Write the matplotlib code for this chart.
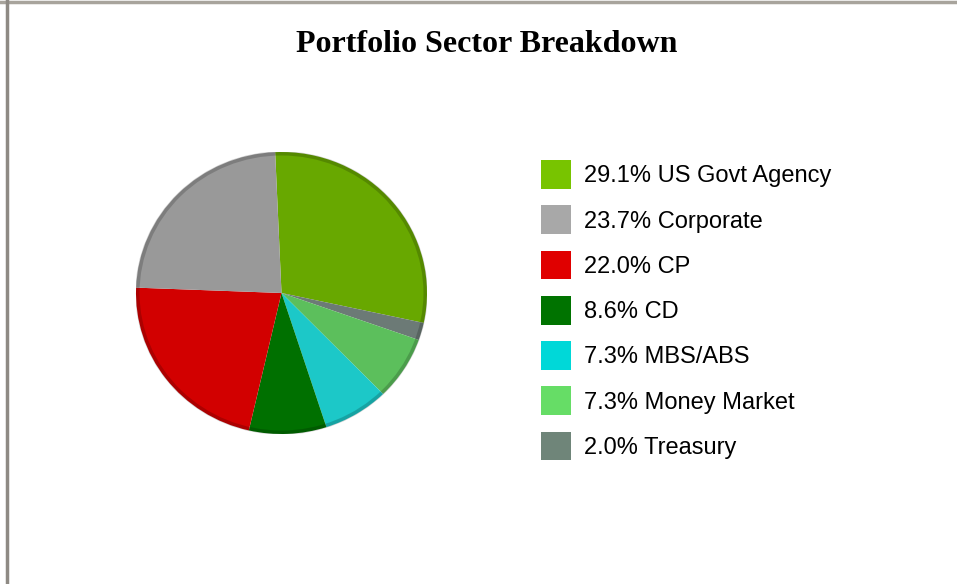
import matplotlib.pyplot as plt
from matplotlib.patches import Patch, Circle
from matplotlib.lines import Line2D

# Sector data (legend order)
sectors = ['US Govt Agency', 'Corporate', 'CP', 'CD', 'MBS/ABS', 'Money Market', 'Treasury']
weights = [29.1, 23.7, 22.0, 8.6, 7.3, 7.3, 2.0]

# pie colours (darker, shaded) and legend swatch colours
pie_colors = ['#68a800', '#999999', '#d20000', '#007000', '#1cc8c8', '#5cbf5c', '#6c7a76']
legend_colors = ['#78c400', '#a8a8a8', '#e00000', '#007300', '#00d8d8', '#66dd66', '#6f8579']

# clockwise order of slices from 12 o'clock
pie_order = [0, 6, 5, 4, 3, 2, 1]

fig = plt.figure(figsize=(9.57, 5.84), dpi=100)
fig.patch.set_facecolor('white')

# window frame on top and left
fig.add_artist(Line2D([0, 1], [1 - 1.5 / 584, 1 - 1.5 / 584], color='#a8a49c', lw=2.5,
                      transform=fig.transFigure))
fig.add_artist(Line2D([7.5 / 957, 7.5 / 957], [0, 1], color='#8e8a84', lw=2.5,
                      transform=fig.transFigure))

fig.text(487 / 957, 1 - 52 / 584, 'Portfolio Sector Breakdown', ha='center', va='baseline',
         fontsize=23, fontweight='bold', family='Liberation Serif')

# pie
ax = fig.add_axes([136 / 957, 1 - 434 / 584, 291 / 957, 282 / 584])
vals = [weights[i] for i in pie_order]
cols = [pie_colors[i] for i in pie_order]
wedges, _ = ax.pie(vals, colors=cols, startangle=92.5, counterclock=False,
                   wedgeprops=dict(linewidth=0))
# slight darker rim, like the bevelled original
ax.add_patch(Circle((0, 0), 0.99, fill=False, edgecolor='#000000', alpha=0.18, lw=3))
ax.set_aspect('auto')
ax.set_xlim(-1.0, 1.0)
ax.set_ylim(-1.0, 1.0)
ax.axis('off')

# legend
handles = [Patch(facecolor=c, edgecolor='none') for c in legend_colors]
labels = [f'{w:.1f}% {s}' for s, w in zip(sectors, weights)]
fig.legend(handles, labels, loc='upper left', bbox_to_anchor=(541 / 957, 1 - 160 / 584),
           frameon=False, borderpad=0, borderaxespad=0,
           handlelength=1.27, handleheight=1.51, handletextpad=0.55, labelspacing=0.69,
           prop={'family': 'Liberation Sans', 'size': 17})

fig.savefig('out.png', dpi=100)
